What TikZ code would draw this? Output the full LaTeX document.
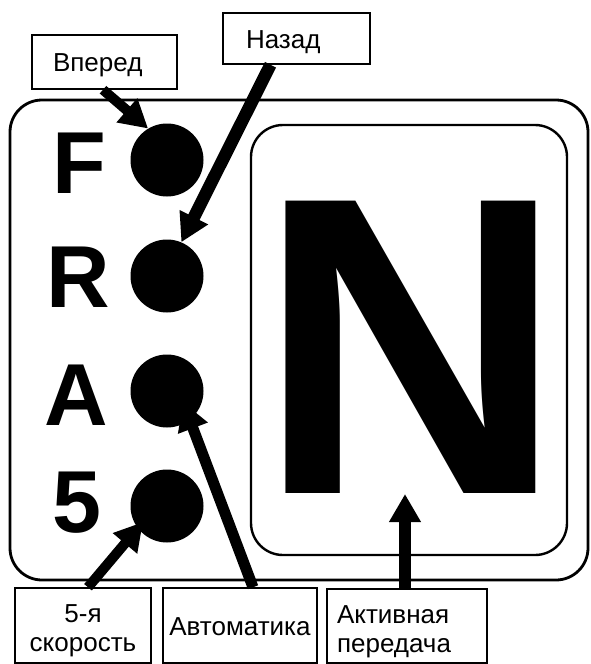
\documentclass[tikz,border=0pt]{standalone}
\usepackage{fontspec}
\setmainfont{Liberation Sans}
\usetikzlibrary{arrows.meta,calc}
\begin{document}
\begin{tikzpicture}[x=1pt,y=-1pt,
  lbl/.style={draw, line width=1.5pt, font=\fontsize{26}{29}\selectfont, inner xsep=0pt, inner ysep=0pt, text height=19pt, text depth=0pt},
  dot/.style={circle, fill=black, inner sep=0pt, minimum size=73pt},
  gear/.style={font=\fontsize{88}{88}\selectfont\bfseries, inner sep=0pt, anchor=base},
  ptr/.style={line width=11pt, -{Triangle[length=28pt,width=30pt]}},
  frame/.style={rounded corners=32pt}
]
\useasboundingbox (0,0) rectangle (590,664);
% panels
\draw[frame, line width=2.8pt] (10,100) rectangle (588,580);
\draw[frame, line width=2.4pt] (251,125) rectangle (567,555);
\node[font=\fontsize{425}{425}\selectfont\bfseries, inner sep=0pt, anchor=base] (gN) at (410.5,493) {N};
% gear letters
\node[gear] (lF) at (79,193) {F};
\node[gear] (lR) at (78,307) {R};
\node[gear] (lA) at (76,425) {A};
\node[gear] (l5) at (76.5,532) {5};
% indicator dots
\node[dot] (cF) at (167,160) {};
\node[dot] (cR) at (167,276) {};
\node[dot] (cA) at (167,391) {};
\node[dot] (c5) at (167,506) {};
% labels
\node[lbl, minimum height=54pt, text width=103pt, inner xsep=21pt, align=left] (vp) at (104.5,62) {Вперед};
\node[lbl, minimum height=51pt, text width=101pt, inner xsep=23pt, align=left] (nz) at (296.5,38.5) {Назад};
\node[lbl, minimum height=75pt, text width=136pt, align=center, text depth=25pt] (sp) at (83,625.5) {5-я\\скорость};
\node[lbl, minimum height=75pt, text width=154pt, align=center] (av) at (240,625.5) {Автоматика};
\node[lbl, minimum height=74pt, text width=140pt, inner xsep=10pt, align=left, text depth=25pt] (ak) at (407,626) {Активная\\передача};
% arrow tips
\coordinate (tA) at (183,402);
\coordinate (t5) at (143,522);
\coordinate (tN) at (405,494);
% arrows
\draw[ptr, line width=10pt] ([xshift=-1.5pt]vp.south) -- (cF.121);
\draw[ptr, line width=12.5pt] ([xshift=-26pt]nz.south) -- (cR.67);
\draw[ptr, line width=11pt] ([xshift=13pt]av.north) -- (tA);
\draw[ptr, line width=10pt] ([xshift=5pt]sp.north) -- (t5);
\draw[ptr, line width=12pt] ([xshift=-2pt]ak.north) -- (tN);
\end{tikzpicture}
\end{document}
